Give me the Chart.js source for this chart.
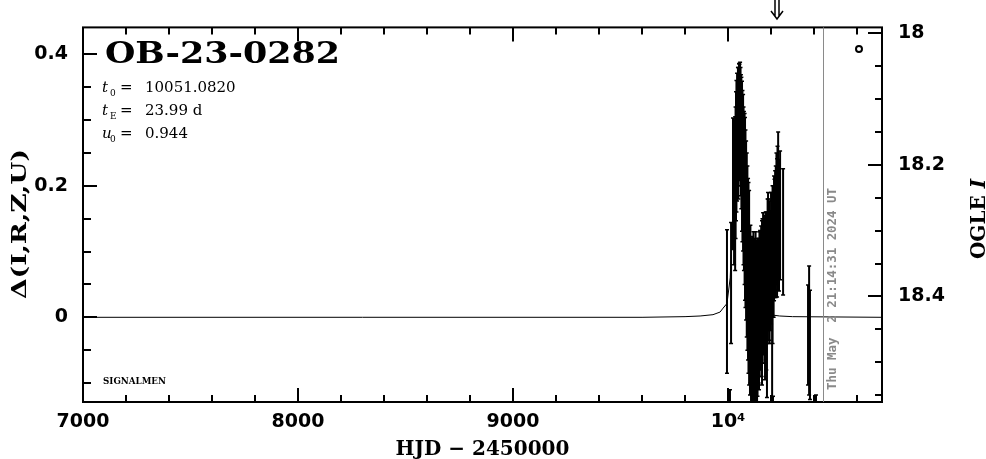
<!DOCTYPE html>
<html>
<head>
<meta charset="utf-8">
<script src="https://cdn.jsdelivr.net/npm/chart.js@4.4.1/dist/chart.umd.min.js"></script>
<style>
  html, body { margin: 0; padding: 0; background: #fff; }
  #wrap { width: 986px; height: 459px; }
</style>
</head>
<body>
<div id="wrap"><canvas id="lc"></canvas></div>
<script>
// observations (HJD - 2450000, delta mag, error)
const obsHJD = [9995, 10009, 10014, 10023, 10028, 10033, 10035, 10037, 10039, 10042,
  10046, 10048, 10051, 10053, 10056, 10058, 10060, 10062, 10065, 10067,
  10070, 10072, 10074, 10077, 10079, 10081, 10084, 10087, 10090, 10093,
  10095, 10098, 10102, 10104, 10107, 10109, 10112, 10114, 10116, 10118,
  10121, 10123, 10126, 10128, 10130, 10132, 10135, 10137, 10140, 10142,
  10144, 10146, 10149, 10151, 10154, 10156, 10158, 10160, 10163, 10165,
  10167, 10170, 10172, 10175, 10178, 10181, 10184, 10186, 10188, 10191,
  10193, 10195, 10198, 10200, 10202, 10205, 10207, 10209, 10212, 10214,
  10216, 10219, 10222, 10225, 10228, 10230, 10233, 10237, 10242, 10256,
  10372, 10377, 10381, 10409];
const obsDelta = [0.024, -0.170, 0.052, 0.203, 0.190, 0.188, 0.220, 0.245, 0.260, 0.274,
  0.290, 0.280, 0.297, 0.300, 0.309, 0.290, 0.277, 0.265, 0.245, 0.230,
  0.220, 0.200, 0.192, 0.180, 0.165, 0.150, 0.132, 0.110, 0.090, 0.073,
  0.060, 0.045, -0.001, 0.020, -0.020, -0.010, 0.005, 0.000, -0.012, 0.020,
  0.012, -0.010, -0.023, 0.010, 0.007, -0.020, -0.031, 0.000, 0.016, 0.010,
  0.000, 0.020, 0.026, 0.030, 0.037, 0.020, 0.022, 0.040, 0.051, 0.050,
  0.048, 0.040, 0.030, 0.060, 0.040, 0.005, 0.070, 0.085, 0.080, 0.071,
  0.060, 0.079, 0.070, 0.090, 0.100, 0.028, 0.080, -0.160, 0.100, 0.120,
  0.120, 0.132, 0.130, 0.150, 0.136, 0.160, 0.184, 0.140, 0.155, 0.130,
  -0.027, -0.020, -0.042, -0.145];
const obsErr = [0.109, 0.060, 0.092, 0.100, 0.110, 0.117, 0.100, 0.098, 0.100, 0.097,
  0.090, 0.100, 0.089, 0.085, 0.079, 0.090, 0.092, 0.100, 0.114, 0.115,
  0.119, 0.120, 0.121, 0.130, 0.139, 0.135, 0.136, 0.140, 0.140, 0.138,
  0.145, 0.148, 0.117, 0.120, 0.121, 0.130, 0.118, 0.120, 0.121, 0.110,
  0.108, 0.120, 0.125, 0.120, 0.110, 0.120, 0.125, 0.120, 0.104, 0.110,
  0.110, 0.110, 0.106, 0.100, 0.102, 0.110, 0.125, 0.110, 0.108, 0.100,
  0.091, 0.110, 0.125, 0.100, 0.120, 0.127, 0.110, 0.105, 0.100, 0.106,
  0.100, 0.083, 0.090, 0.100, 0.090, 0.149, 0.120, 0.040, 0.100, 0.095,
  0.090, 0.091, 0.100, 0.100, 0.105, 0.100, 0.098, 0.100, 0.098, 0.096,
  0.076, 0.098, 0.083, 0.027];

// model light curve
const modelHJD = [7000, 9600, 9800, 9870, 9930, 9963, 9977, 9995, 10010, 10025, 10040,
  10051, 10062, 10077, 10092, 10110, 10130, 10170, 10240, 10300, 10716];
const modelDelta = [0, 0, 0.001, 0.002, 0.004, 0.008, 0.014, 0.021, 0.06, 0.17, 0.3,
  0.35, 0.3, 0.17, 0.06, 0.025, 0.012, 0.005, 0.002, 0.001, 0];

// OGLE symbol in the corner
const ogleMark = [{ x: 10609, y: 0.408 }];

// axes
const xTicks = [7000, 8000, 9000, 10000];
const xTickLabels = ['7000', '8000', '9000', '10\u2074'];
const leftTicks = [0, 0.2, 0.4];
const rightTicks = [18, 18.2, 18.4];

const eventName = 'OB-23-0282';
const fitParams = [['t', '0', '10051.0820'], ['t', 'E', '23.99 d'], ['u', '0', '0.944']];
const nowHJD = 10442;
const arrowHJD = 10226;
const stamp = 'Thu May  2 21:14:31 2024 UT';

const tickFont = { family: 'DejaVu Sans', size: 19, weight: 'bold' };
const titleFont = { family: 'DejaVu Serif', size: 20, weight: 'bold' };

// error bars, drawn through the scales
const errorBars = {
  id: 'errorBars',
  afterDatasetsDraw(chart) {
    const { ctx, chartArea: a, scales: { x, y } } = chart;
    ctx.save();
    ctx.beginPath();
    ctx.rect(a.left, a.top, a.right - a.left, a.bottom - a.top);
    ctx.clip();
    ctx.strokeStyle = '#000';
    obsHJD.forEach((t, i) => {
      const px = x.getPixelForValue(t);
      const y1 = y.getPixelForValue(obsDelta[i] + obsErr[i]);
      const y2 = y.getPixelForValue(obsDelta[i] - obsErr[i]);
      ctx.lineWidth = 2;
      ctx.beginPath();
      ctx.moveTo(px, y1);
      ctx.lineTo(px, y2);
      ctx.stroke();
      ctx.lineWidth = 1.5;
      ctx.beginPath();
      ctx.moveTo(px - 2, y1); ctx.lineTo(px + 2, y1);
      ctx.moveTo(px - 2, y2); ctx.lineTo(px + 2, y2);
      ctx.stroke();
    });
    ctx.restore();
  }
};

// frame with inward ticks on all four sides
const frame = {
  id: 'frame',
  afterDraw(chart) {
    const { ctx, chartArea: a, scales: { x, y, y2 } } = chart;
    ctx.save();
    ctx.strokeStyle = '#000';
    ctx.lineWidth = 2;
    ctx.strokeRect(a.left, a.top, a.right - a.left, a.bottom - a.top);
    ctx.beginPath();
    for (let v = 7000; v <= x.max; v += 200) {
      const px = Math.round(x.getPixelForValue(v));
      const len = v % 1000 === 0 ? 14 : 7;
      ctx.moveTo(px, a.bottom); ctx.lineTo(px, a.bottom - len);
      ctx.moveTo(px, a.top); ctx.lineTo(px, a.top + len);
    }
    for (let k = -2; k <= 8; k++) {
      const py = Math.round(y.getPixelForValue(k * 0.05));
      const len = k % 4 === 0 ? 14 : 8;
      ctx.moveTo(a.left, py); ctx.lineTo(a.left + len, py);
    }
    for (let k = 0; k <= 11; k++) {
      const py = Math.round(y2.getPixelForValue(18 + k * 0.05));
      const len = k % 4 === 0 ? 14 : 7;
      ctx.moveTo(a.right, py); ctx.lineTo(a.right - len, py);
    }
    ctx.stroke();
    ctx.restore();
  }
};

function fitText(ctx, text, x, y, width) {
  const w = ctx.measureText(text).width;
  ctx.save();
  ctx.translate(x, y);
  ctx.scale(width / w, 1);
  ctx.fillText(text, 0, 0);
  ctx.restore();
}

// labels and annotations
const notes = {
  id: 'notes',
  afterDraw(chart) {
    const { ctx, chartArea: a, scales: { x } } = chart;
    ctx.save();
    ctx.fillStyle = '#000';
    ctx.textBaseline = 'alphabetic';
    ctx.textAlign = 'left';

    ctx.font = 'bold 30px "DejaVu Serif"';
    fitText(ctx, eventName, 105, 63, 235);

    fitParams.forEach((p, i) => {
      const by = 92 + i * 23;
      ctx.font = 'italic 15px "DejaVu Serif"';
      ctx.fillText(p[0], 102, by);
      ctx.font = '9px "DejaVu Serif"';
      ctx.fillText(p[1], 110, by + 4);
      ctx.font = '15px "DejaVu Serif"';
      ctx.fillText('=', 120, by);
      ctx.fillText(p[2], 145, by);
    });

    ctx.font = 'bold 9px "DejaVu Serif"';
    fitText(ctx, 'SIGNALMEN', 103, 384, 63);

    // left axis title
    ctx.font = 'bold 21px "DejaVu Serif"';
    ctx.save();
    ctx.translate(26, 299);
    ctx.rotate(-Math.PI / 2);
    fitText(ctx, '\u0394(I,R,Z,U)', 0, 0, 150);
    ctx.restore();

    // today marker
    const nx = Math.round(x.getPixelForValue(nowHJD)) + 0.5;
    ctx.strokeStyle = '#8a8a8a';
    ctx.lineWidth = 1;
    ctx.beginPath();
    ctx.moveTo(nx, a.top); ctx.lineTo(nx, a.bottom);
    ctx.stroke();
    ctx.fillStyle = '#8a8a8a';
    ctx.font = 'bold 12.4px "DejaVu Sans Mono"';
    ctx.save();
    ctx.translate(nx + 12, 390);
    ctx.rotate(-Math.PI / 2);
    fitText(ctx, stamp, 0, 0, 202);
    ctx.restore();

    // arrow above the frame
    const ax = Math.round(x.getPixelForValue(arrowHJD));
    ctx.strokeStyle = '#000';
    ctx.lineWidth = 1.5;
    ctx.beginPath();
    ctx.moveTo(ax - 2, 0); ctx.lineTo(ax - 2, 16);
    ctx.moveTo(ax + 2, 0); ctx.lineTo(ax + 2, 16);
    ctx.moveTo(ax - 6, 11); ctx.lineTo(ax, 19); ctx.lineTo(ax + 6, 11);
    ctx.stroke();

    // right axis title
    ctx.fillStyle = '#000';
    ctx.font = 'bold 20px "DejaVu Serif"';
    const w1 = ctx.measureText('OGLE ').width;
    ctx.font = 'bold italic 20px "DejaVu Serif"';
    const w2 = ctx.measureText('I').width;
    ctx.save();
    ctx.translate(985, 219 + (w1 + w2) / 2);
    ctx.rotate(-Math.PI / 2);
    ctx.font = 'bold 20px "DejaVu Serif"';
    ctx.fillText('OGLE ', 0, 0);
    ctx.font = 'bold italic 20px "DejaVu Serif"';
    ctx.fillText('I', w1, 0);
    ctx.restore();

    ctx.restore();
  }
};

const ctx = document.getElementById('lc').getContext('2d');
const chart = new Chart(ctx, {
  type: 'scatter',
  data: {
    datasets: [
      {
        type: 'line',
        data: modelHJD.map((t, i) => ({ x: t, y: modelDelta[i] })),
        borderColor: '#000',
        borderWidth: 1,
        pointRadius: 0,
        tension: 0,
        yAxisID: 'y'
      },
      {
        data: obsHJD.map((t, i) => ({ x: t, y: obsDelta[i] })),
        pointRadius: 0,
        yAxisID: 'y'
      },
      {
        data: ogleMark,
        pointRadius: 3,
        borderWidth: 2,
        borderColor: '#000',
        backgroundColor: '#fff',
        yAxisID: 'y'
      }
    ]
  },
  options: {
    responsive: true,
    maintainAspectRatio: false,
    animation: false,
    devicePixelRatio: 1,
    layout: { padding: { top: 26, left: 0, right: 0, bottom: 0 } },
    plugins: { legend: { display: false }, tooltip: { enabled: false } },
    scales: {
      x: {
        type: 'linear',
        position: 'bottom',
        min: 7000,
        max: 10716,
        grid: { display: false, drawTicks: false },
        border: { display: false },
        afterBuildTicks: s => { s.ticks = xTicks.map(v => ({ value: v })); },
        afterFit: s => { s.height = 57; },
        ticks: {
          font: tickFont,
          color: '#000',
          padding: 9,
          maxRotation: 0,
          autoSkip: false,
          callback: v => xTickLabels[xTicks.indexOf(v)]
        },
        title: { display: true, text: 'HJD \u2212 2450000', font: titleFont, color: '#000', padding: { top: 0, bottom: -3 } }
      },
      y: {
        type: 'linear',
        position: 'left',
        min: -0.1288,
        max: 0.4409,
        grid: { display: false, drawTicks: false },
        border: { display: false },
        afterBuildTicks: s => { s.ticks = leftTicks.map(v => ({ value: v })); },
        afterFit: s => { s.width = 83; },
        ticks: { font: tickFont, color: '#000', padding: 15, callback: v => String(v) }
      },
      y2: {
        type: 'linear',
        position: 'right',
        reverse: true,
        min: 17.9909,
        max: 18.5606,
        grid: { display: false, drawTicks: false },
        border: { display: false },
        afterBuildTicks: s => { s.ticks = rightTicks.map(v => ({ value: v })); },
        afterFit: s => { s.width = 104; },
        ticks: { font: tickFont, color: '#000', padding: 16, callback: v => String(v) }
      }
    }
  },
  plugins: [errorBars, frame, notes]
});
</script>
</body>
</html>
